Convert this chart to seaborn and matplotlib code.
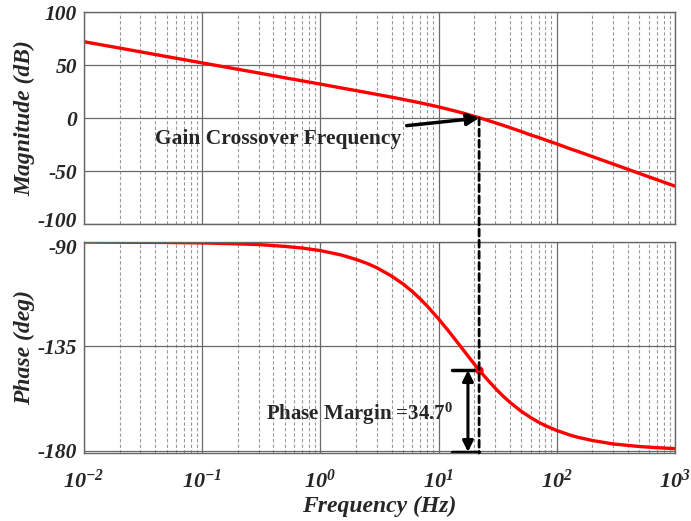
import matplotlib
matplotlib.use("Agg")
import pandas as pd
import matplotlib.pyplot as plt
import matplotlib.transforms as mtransforms
import seaborn as sns
from matplotlib.patches import ConnectionPatch
from matplotlib.ticker import LogLocator, NullFormatter

# Values
freq = [0.01, 0.02, 0.05, 0.1, 0.2, 0.3, 0.5, 0.7, 1, 1.5, 2, 2.5, 3, 4, 5,
        6, 7, 8, 10, 12, 15, 17, 20, 22, 25, 30, 35, 40, 50, 60, 70, 80,
        100, 130, 150, 200, 300, 500, 700, 1000]
mag_db = [72.0, 66.0, 58.0, 52.0, 46.0, 42.5, 38.0, 35.1, 32.0, 28.4, 25.9,
          23.9, 22.3, 19.7, 17.6, 15.8, 14.3, 12.9, 10.5, 8.3, 5.6, 3.9, 1.6,
          0.3, -1.6, -4.4, -6.8, -9.0, -12.7, -16.0, -18.3, -20.7, -24.4,
          -29.1, -31.4, -36.4, -43.4, -52.3, -58.1, -64.3]
phase_deg = [-90.0, -90.1, -90.2, -90.4, -90.8, -91.1, -91.9, -92.6, -93.7,
             -95.6, -97.5, -99.3, -101.1, -104.7, -108.1, -111.4, -114.6,
             -117.6, -123.2, -128.1, -134.4, -138.0, -142.6, -145.2, -148.5,
             -153.0, -156.4, -159.1, -163.0, -165.7, -167.7, -169.2, -171.3,
             -173.3, -174.2, -175.6, -177.1, -178.2, -178.7, -179.1]

mag_ticks = [-100, -50, 0, 50, 100]
phase_ticks = [-180, -135, -90]
x_ticks = [0.01, 0.1, 1, 10, 100, 1000]
x_labels = ["$10^{-2}$", "$10^{-1}$", "$10^{0}$", "$10^{1}$", "$10^{2}$", "$10^{3}$"]

f_cross = 22.0
pm_phase = -145.3
pm_text = "Phase Margin =34.7$^{\\mathbf{0}}$"

sns.set_theme(style="white")
plt.rcParams["font.family"] = ["Liberation Serif", "DejaVu Serif"]
plt.rcParams["mathtext.fontset"] = "custom"
plt.rcParams["mathtext.rm"] = "Liberation Serif:bold:italic"
plt.rcParams["mathtext.it"] = "Liberation Serif:bold:italic"
plt.rcParams["mathtext.bf"] = "Liberation Serif:bold"
plt.rcParams["axes.unicode_minus"] = False

df = pd.DataFrame({"freq": freq, "mag": mag_db, "phase": phase_deg})

fig = plt.figure(figsize=(6.91, 5.21), dpi=100)
ax1 = fig.add_axes([0.1216, 0.570, 0.8553, 0.4069])
ax2 = fig.add_axes([0.1216, 0.1305, 0.8553, 0.405])

sns.lineplot(data=df, x="freq", y="mag", ax=ax1, color="#ff0000", lw=2.4)
sns.lineplot(data=df, x="freq", y="phase", ax=ax2, color="#ff0000", lw=2.4)

tick_font = dict(fontsize=15.5, fontweight="bold", fontstyle="italic")
label_font = dict(fontsize=17, fontweight="bold", fontstyle="italic")

for ax in (ax1, ax2):
    ax.set_xscale("log")
    ax.set_xlim(0.01, 1000)
    ax.xaxis.set_minor_locator(LogLocator(base=10, subs=range(2, 10), numticks=20))
    ax.xaxis.set_minor_formatter(NullFormatter())
    ax.set_xticks(x_ticks)
    ax.grid(which="major", color="#6a6a6a", lw=0.9, ls="-")
    ax.grid(which="minor", axis="x", color="#9a9a9a", lw=0.8, ls=(0, (3, 2)))
    ax.tick_params(which="both", length=0, pad=5)
    for s in ax.spines.values():
        s.set_color("#666666")
        s.set_linewidth(1.0)

ax1.set_ylim(-100, 100)
ax1.set_yticks(mag_ticks)
ax1.set_yticklabels([str(t) for t in mag_ticks], **tick_font)
ax1.set_xticklabels([])
ax1.set_xlabel("")
ax1.set_ylabel("Magnitude (dB)", labelpad=2, **label_font)

ax2.set_ylim(-181, -90)
ax2.set_yticks(phase_ticks)
ax2.set_yticklabels([str(t) for t in phase_ticks], **tick_font)
ax2.set_xticklabels(x_labels, fontsize=16)
ax2.tick_params(axis="x", pad=12)
ax2.set_xlabel("Frequency (Hz)", labelpad=2, **label_font)
ax2.set_ylabel("Phase (deg)", labelpad=2, **label_font)

# keep the two labels at the panel gap from colliding
up = mtransforms.ScaledTranslation(0, 3 / 72, fig.dpi_scale_trans)
down = mtransforms.ScaledTranslation(0, -3 / 72, fig.dpi_scale_trans)
lbl = ax1.get_yticklabels()[0]
lbl.set_transform(lbl.get_transform() + up)
lbl = ax2.get_yticklabels()[-1]
lbl.set_transform(lbl.get_transform() + down)

# crossover dashed line spanning both panels
con = ConnectionPatch(xyA=(f_cross, 0), coordsA=ax1.transData,
                      xyB=(f_cross, -181), coordsB=ax2.transData,
                      color="black", lw=2.0, ls=(0, (2.5, 1.5)))
fig.add_artist(con)

ax1.annotate("Gain Crossover Frequency", xy=(f_cross, 0), xytext=(4.8, -20),
             ha="right", va="center", fontsize=15.5, fontweight="bold",
             arrowprops=dict(arrowstyle="-|>", color="black", lw=2.5,
                             mutation_scale=18, shrinkA=2, shrinkB=0))

# phase margin marks
ax2.plot([f_cross], [pm_phase], "o", color="#ff0000", ms=5, zorder=5)
ax2.plot([13.0, f_cross], [pm_phase, pm_phase], color="black", lw=2.5)
ax2.plot([13.0, f_cross], [-180.5, -180.5], color="black", lw=2.5)
ax2.annotate("", xy=(17.7, -180.5), xytext=(17.7, pm_phase),
             arrowprops=dict(arrowstyle="<|-|>", color="black", lw=2.2,
                             mutation_scale=16, shrinkA=0, shrinkB=0))
ax2.text(13.2, -164.2, pm_text, ha="right", va="center",
         fontsize=15, fontweight="bold")

fig.savefig("out.png", dpi=100)
